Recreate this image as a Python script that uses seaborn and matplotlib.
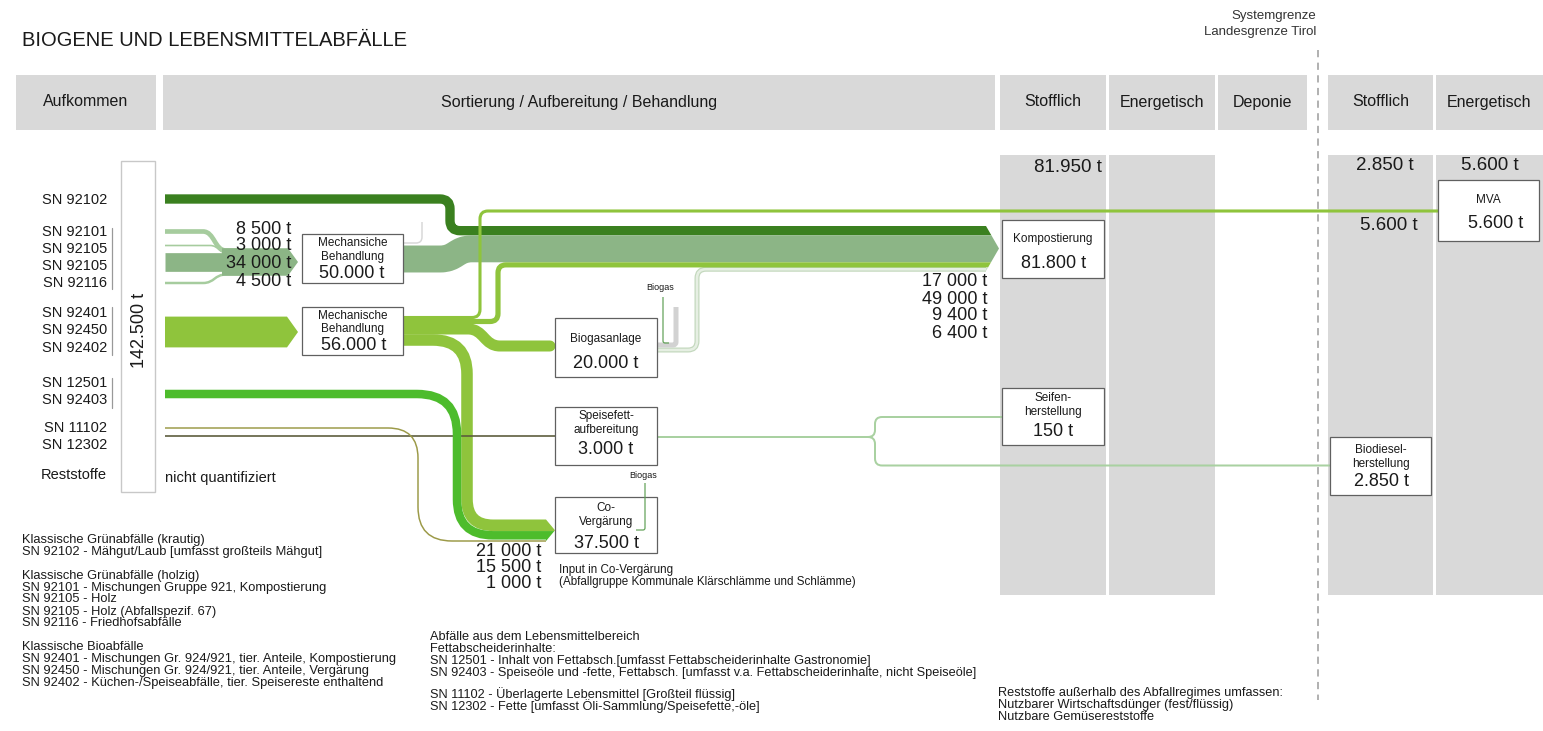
import numpy as np
import matplotlib
matplotlib.use("Agg")
import matplotlib.pyplot as plt
import seaborn as sns
from matplotlib.path import Path
from matplotlib.patches import PathPatch, Rectangle, Polygon

# ------------------------------------------------------------------ data
title = "BIOGENE UND LEBENSMITTELABFÄLLE"
stage_headers = ["Aufkommen", "Sortierung / Aufbereitung / Behandlung",
                 "Stofflich", "Energetisch", "Deponie", "Stofflich", "Energetisch"]
boundary_labels = ["Systemgrenze", "Landesgrenze Tirol"]

source_codes = ["SN 92102", "SN 92101", "SN 92105", "SN 92105", "SN 92116",
                "SN 92401", "SN 92450", "SN 92402", "SN 12501", "SN 92403",
                "SN 11102", "SN 12302", "Reststoffe"]
aufkommen_total = 142500
not_quantified = "nicht quantifiziert"

kraut_value = 17000                          # SN 92102 -> Kompostierung
holz_values = [8500, 3000, 34000, 4500]      # -> Mechanische Behandlung 50.000 t
bio_value = 56000                            # -> Mechanische Behandlung 56.000 t
mech_holz_to_komp = 49000
mech_bio_out = [5600, 9400, 20000, 21000]    # MVA, Kompost, Biogasanlage, Co-Vergaerung
gaerrest_value = 6400                        # Biogasanlage -> Kompostierung
fett_value = 15500                           # SN 12501/92403 -> Co-Vergaerung
lebensmittel_values = [1000, 3000]           # SN 11102/12302 -> Co-Verg., Speisefett
speisefett_out = [150, 2850]                 # Seifen, Biodiesel

komp_inputs = [17000, 49000, 9400, 6400]
cov_inputs = [21000, 15500, 1000]

process_names = [["Mechansiche", "Behandlung"], ["Mechanische", "Behandlung"],
                 ["Biogasanlage"], ["Speisefett-", "aufbereitung"],
                 ["Co-", "Vergärung"], ["Kompostierung"],
                 ["Seifen-", "herstellung"], ["Biodiesel-", "herstellung"], ["MVA"]]
process_totals = [50000, 56000, 20000, 3000, 37500, 81800, 150, 2850, 5600]

column_totals = [81950, 2850, 5600, 5600]

legend_block1 = ["Klassische Grünabfälle (krautig)",
                 "SN 92102 - Mähgut/Laub [umfasst großteils Mähgut]",
                 "",
                 "Klassische Grünabfälle (holzig)",
                 "SN 92101 - Mischungen Gruppe 921, Kompostierung",
                 "SN 92105 - Holz",
                 "SN 92105 - Holz (Abfallspezif. 67)",
                 "SN 92116 - Friedhofsabfälle",
                 "",
                 "Klassische Bioabfälle",
                 "SN 92401 - Mischungen Gr. 924/921, tier. Anteile, Kompostierung",
                 "SN 92450 - Mischungen Gr. 924/921, tier. Anteile, Vergärung",
                 "SN 92402 - Küchen-/Speiseabfälle, tier. Speisereste enthaltend"]
legend_block2 = ["Abfälle aus dem Lebensmittelbereich",
                 "Fettabscheiderinhalte:",
                 "SN 12501 - Inhalt von Fettabsch.[umfasst Fettabscheiderinhalte Gastronomie]",
                 "SN 92403 - Speiseöle und -fette, Fettabsch. [umfasst v.a. Fettabscheiderinhalte, nicht Speiseöle]",
                 "",
                 "SN 11102 - Überlagerte Lebensmittel [Großteil flüssig]",
                 "SN 12302 - Fette [umfasst Öli-Sammlung/Speisefette,-öle]"]
legend_block3 = ["Reststoffe außerhalb des Abfallregimes umfassen:",
                 "Nutzbarer Wirtschaftsdünger (fest/flüssig)",
                 "Nutzbare Gemüsereststoffe"]
co_note = ["Input in Co-Vergärung", "(Abfallgruppe Kommunale Klärschlämme und Schlämme)"]

# ------------------------------------------------------------------ style
sns.set_theme(style="white")
plt.rcParams["font.family"] = ["Liberation Sans", "DejaVu Sans"]

DPI = 100
W, H = 1543, 731
PX_PER_T = 0.55 / 1000.0

C_DARK = "#3a801f"
C_GRAYGREEN = "#8cb586"
C_LIGHTHOLZ = "#a6cc9e"
C_YG = "#8fc43c"
C_BRIGHT = "#4dbc2c"
C_OLIVE = "#9c9a48"
C_DOLIVE = "#5c5c3c"
C_GAER = "#cfe1c9"
C_FETTLINE = "#a9d1a1"
C_BIOGAS = "#5fa055"
C_PANEL = "#d9d9d9"
C_TEXT = "#1a1a1a"

fig = plt.figure(figsize=(W / DPI, H / DPI), dpi=DPI)
ax = fig.add_axes([0, 0, 1, 1])
ax.set_xlim(0, W)
ax.set_ylim(H, 0)
ax.axis("off")
sns.despine(ax=ax, left=True, bottom=True)


def lw_px(px):
    return px * 72.0 / DPI


def wpx(v):
    return v * PX_PER_T


def rounded(pts, radius):
    pts = [np.array(p, float) for p in pts]
    n = len(pts)
    if np.isscalar(radius):
        radius = [radius] * max(n - 2, 1)
    verts = [pts[0]]
    codes = [Path.MOVETO]
    for i in range(1, n - 1):
        p0, p1, p2 = pts[i - 1], pts[i], pts[i + 1]
        d1 = p1 - p0
        l1 = np.hypot(*d1)
        d1 = d1 / l1
        d2 = p2 - p1
        l2 = np.hypot(*d2)
        d2 = d2 / l2
        r = min(radius[i - 1], l1 if i == 1 else l1 / 2, l2 if i == n - 2 else l2 / 2)
        verts += [p1 - d1 * r, p1, p1 + d2 * r]
        codes += [Path.LINETO, Path.CURVE3, Path.CURVE3]
    verts.append(pts[-1])
    codes.append(Path.LINETO)
    return Path(verts, codes)


def shift(x0, y0, x1, x2, y1, x3):
    xm = (x1 + x2) / 2
    return Path([(x0, y0), (x1, y0), (xm, y0), (xm, y1), (x2, y1), (x3, y1)],
                [Path.MOVETO, Path.LINETO, Path.CURVE4, Path.CURVE4, Path.CURVE4, Path.LINETO])


def stroke(path, width_px, color, z=3, cap="butt"):
    ax.add_patch(PathPatch(path, fill=False, edgecolor=color, lw=lw_px(width_px),
                           capstyle=cap, joinstyle="round", zorder=z))


def tip(x0, x1, bands, z=3):
    top = bands[0][0]
    bottom = bands[-1][1]
    mid = (top + bottom) / 2
    half = (bottom - top) / 2

    def xat(y):
        return x0 + (x1 - x0) * (1 - abs(y - mid) / half)

    for t, b, c in bands:
        pts = [(x0, t), (xat(t), t)]
        if t < mid < b:
            pts.append((x1, mid))
        pts += [(xat(b), b), (x0, b)]
        ax.add_patch(Polygon(pts, closed=True, facecolor=c, edgecolor="none", zorder=z))


def txt(x, y, s, size, ha="center", color=C_TEXT, **kw):
    ax.text(x, y, s, fontsize=size, ha=ha, va="center", color=color, zorder=8, **kw)


def fmt_dot(v):
    return f"{v:,}".replace(",", ".") + " t"


def fmt_space(v):
    return f"{v:,}".replace(",", " ") + " t"


# ------------------------------------------------------------------ title / headers
txt(22, 41, title, 14.5, ha="left")
txt(1316, 16, boundary_labels[0], 9.5, ha="right", color="#333333")
txt(1316, 32, boundary_labels[1], 9.5, ha="right", color="#333333")

header_spans = [(16, 156), (163, 995), (1000, 1106), (1109, 1215), (1218, 1307),
                (1328, 1433), (1436, 1543)]
for (x0, x1), name in zip(header_spans, stage_headers):
    ax.add_patch(Rectangle((x0, 75), x1 - x0, 55, facecolor=C_PANEL, edgecolor="none", zorder=0))
    txt((x0 + x1) / 2, 102, name, 11.5)

# column bodies
for i in [2, 3, 5, 6]:
    x0, x1 = header_spans[i]
    ax.add_patch(Rectangle((x0, 155), x1 - x0, 440, facecolor=C_PANEL, edgecolor="none", zorder=0))

ax.plot([1318, 1318], [50, 700], color="#aaaaaa", lw=1.3, ls=(0, (4, 3)), zorder=1)

# column totals
txt(1102, 167, fmt_dot(column_totals[0]), 13.5, ha="right")
txt(1385, 166, fmt_dot(column_totals[1]), 13.5)
txt(1490, 166, fmt_dot(column_totals[2]), 13.5)
txt(1389, 225, fmt_dot(column_totals[3]), 13.5)

# ------------------------------------------------------------------ left side
src_y = [200, 232, 249, 266, 283, 313, 330, 348, 383, 400, 428, 445, 475]
for y, s in zip(src_y, source_codes):
    txt(107, y, s, 10.5, ha="right")
for y0, y1 in [(228, 289), (307, 355), (378, 408)]:
    ax.plot([111.5, 111.5], [y0, y1], color="#999999", lw=0.9, zorder=2)

ax.add_patch(Rectangle((121, 161), 34, 331, facecolor="white", edgecolor="#c8c8c8", lw=1, zorder=4))
txt(139, 330, fmt_dot(aufkommen_total), 13, rotation=90)
txt(165, 478, not_quantified, 10.5, ha="left")

# ------------------------------------------------------------------ flows
# Kompostierung stack
kw = [wpx(v) for v in komp_inputs]
k_edges = 226 + np.concatenate([[0], np.cumsum(kw)])
k_cent = (k_edges[:-1] + k_edges[1:]) / 2
X_KEND = 986

# SN 92102 dark green
stroke(rounded([(165, 199), (450, 199), (450, k_cent[0]), (X_KEND, k_cent[0])], 10),
       wpx(kraut_value), C_DARK)

# holz inputs -> arrow
hw = [wpx(v) for v in holz_values]
stroke(shift(165, 231.5, 203, 226, 250.5, 240), hw[0], C_LIGHTHOLZ)
stroke(shift(165, 245.5, 210, 228, 253.5, 240), max(hw[1], 1.6), C_LIGHTHOLZ)
stroke(rounded([(165, 262), (240, 262)], 1), hw[2], C_GRAYGREEN)
stroke(shift(165, 283, 203, 226, 274.5, 240), hw[3], C_LIGHTHOLZ)
h_tot = wpx(sum(holz_values))
ax.add_patch(Polygon([(222, 262 - h_tot / 2), (288, 262 - h_tot / 2), (298, 262),
                      (288, 262 + h_tot / 2), (222, 262 + h_tot / 2)],
                     closed=True, facecolor=C_GRAYGREEN, edgecolor="none", zorder=3))

# bio input arrow
b_tot = wpx(bio_value)
ax.add_patch(Polygon([(165, 332 - b_tot / 2), (287, 332 - b_tot / 2), (298, 332),
                      (287, 332 + b_tot / 2), (165, 332 + b_tot / 2)],
                     closed=True, facecolor=C_YG, edgecolor="none", zorder=3))

# Mech 50.000 -> Kompostierung
stroke(shift(403, 259, 440, 472, k_cent[1], X_KEND), wpx(mech_holz_to_komp), C_GRAYGREEN)
# small light hook
stroke(rounded([(403, 243), (422, 243), (422, 222)], 6), 1.5, "#d8d8d8", z=2)

# Mech 56.000 outputs
mw = [wpx(v) for v in mech_bio_out]
stroke(rounded([(403, 317.5), (480, 317.5), (480, 211), (1438, 211)], 8), mw[0], C_YG)
stroke(rounded([(403, 321.5), (498, 321.5), (498, k_cent[2]), (X_KEND, k_cent[2])], 8), mw[1], C_YG)
stroke(shift(403, 329, 468, 500, 346, 550), mw[2], C_YG, cap="round")

# Co-Vergaerung stack
cw = [wpx(v) for v in cov_inputs]
c_edges = 519.5 + np.concatenate([[0], np.cumsum(cw)])
c_cent = (c_edges[:-1] + c_edges[1:]) / 2
X_CEND = 546
stroke(rounded([(403, 340), (467, 340), (467, c_cent[0]), (X_CEND, c_cent[0])], [34, 26]), cw[0], C_YG)
stroke(rounded([(165, 394), (457, 394), (457, c_cent[1]), (X_CEND, c_cent[1])], [40, 36]), cw[1], C_BRIGHT, z=3.1)
stroke(rounded([(165, 428), (418, 428), (418, 541), (X_CEND, 541)], [30, 34]), 1.5, C_OLIVE, z=3.2)
tip(X_CEND, 555, [(c_edges[0], c_edges[1], C_YG), (c_edges[1], c_edges[2] + 1.5, C_BRIGHT)])

# SN 11102/12302 -> Speisefett
stroke(rounded([(165, 435.5), (556, 435.5)], 1), wpx(lebensmittel_values[1]), C_DOLIVE)

# Biogasanlage -> Gaerrest -> Kompostierung
stroke(rounded([(657, 350), (697, 350), (697, k_cent[3]), (X_KEND, k_cent[3])], 9),
       5.0, "#c3d8bd", z=2.5)
stroke(rounded([(657, 350), (697, 350), (697, k_cent[3]), (X_KEND, k_cent[3])], 9),
       2.6, "#e6efe3", z=2.6)
# biogas symbols
stroke(rounded([(657, 345), (676, 345), (676, 307)], 3), 5, "#d2d2d2", z=2.7)
stroke(rounded([(663, 297), (663, 343), (669, 343)], 2), 1.2, C_BIOGAS, z=2.8)
txt(660, 288, "Biogas", 6.5)
stroke(rounded([(645, 483), (645, 530), (636, 530)], 2), 1.2, C_BIOGAS, z=6)
txt(643, 476, "Biogas", 6.5)

# Kompost arrow tip
tip(X_KEND, 999, [(k_edges[0], k_edges[1], C_DARK), (k_edges[1], k_edges[2], C_GRAYGREEN),
                  (k_edges[2], k_edges[3], C_YG), (k_edges[3], k_edges[4], C_GAER)])

# Speisefett -> Seifen / Biodiesel
stroke(rounded([(657, 437), (866, 437)], 1), 2, C_FETTLINE)
stroke(rounded([(860, 437), (875, 437), (875, 417), (1003, 417)], 7), 2, C_FETTLINE)
stroke(rounded([(860, 437), (875, 437), (875, 465.5), (1331, 465.5)], 7), 2, C_FETTLINE)

# flow value labels
for y, v in zip([230, 246, 264, 282], holz_values):
    txt(291, y, fmt_space(v), 13, ha="right")
for y, v in zip([282, 299, 316, 333], komp_inputs):
    txt(987, y, fmt_space(v), 13, ha="right")
for y, v in zip([551, 567, 583], cov_inputs):
    txt(541, y, fmt_space(v), 13, ha="right")
txt(559, 570, co_note[0], 8.4, ha="left")
txt(559, 582, co_note[1], 8.4, ha="left")

# ------------------------------------------------------------------ process boxes
boxes = [
    ((302, 234, 403, 283), [243, 257], 273, 352),
    ((302, 307, 403, 355), [316, 329], 345, 354),
    ((555, 318, 657, 377), [339], 363, 606),
    ((555, 407, 657, 465), [416, 430], 450, 606),
    ((555, 497, 657, 553), [508, 522], 543, 606),
    ((1002, 220, 1104, 278), [239], 263, 1054),
    ((1002, 388, 1104, 445), [398, 412], 432, 1053),
    ((1330, 437, 1431, 495), [450, 464], 482, 1381),
    ((1438, 180, 1539, 241), [200], 223, 1496),
]
for (bx, lines_y, num_y, num_x), names, total in zip(boxes, process_names, process_totals):
    x0, y0, x1, y1 = bx
    ax.add_patch(Rectangle((x0, y0), x1 - x0, y1 - y0, facecolor="white",
                           edgecolor="#606060", lw=0.9, zorder=5))
    cx = (x0 + x1) / 2
    for yy, nm in zip(lines_y, names):
        txt(cx, yy, nm, 8.5)
    txt(num_x, num_y, fmt_dot(total), 13)

# ------------------------------------------------------------------ legends
y = 540
for line in legend_block1:
    if line == "":
        y += 11.5
        continue
    txt(22, y, line, 9.3, ha="left")
    y += 12
y = 637
for line in legend_block2:
    if line == "":
        y += 9
        continue
    txt(430, y, line, 9.2, ha="left")
    y += 12
for i, line in enumerate(legend_block3):
    txt(998, 693 + 12 * i, line, 9.2, ha="left")

fig.savefig("out.png", dpi=DPI, facecolor="white")
